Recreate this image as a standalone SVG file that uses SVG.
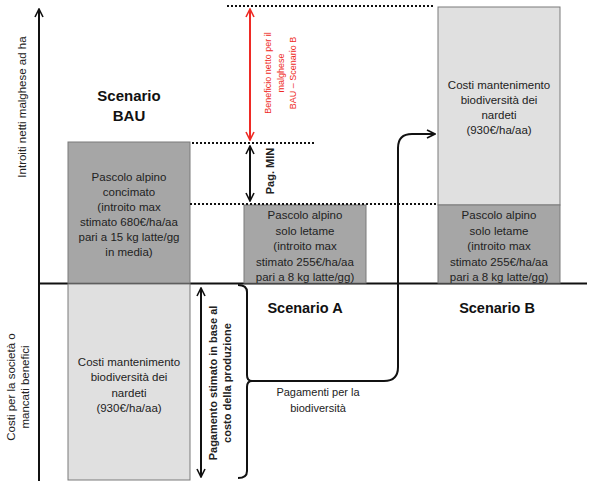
<svg xmlns="http://www.w3.org/2000/svg" width="594" height="491" viewBox="0 0 594 491">
<style>
.t{font-family:"Liberation Sans",Arial,sans-serif;font-size:11.5px;fill:#222;text-anchor:middle}
.h{font-family:"Liberation Sans",Arial,sans-serif;font-size:15px;font-weight:bold;fill:#111;text-anchor:middle}
.dark{fill:#a6a6a6;stroke:#7a7a7a;stroke-width:1}
.light{fill:#e0e0e0;stroke:#7a7a7a;stroke-width:1}
.dot{stroke:#111;stroke-width:2;stroke-dasharray:2,2;fill:none}
.ln{stroke:#111;stroke-width:2;fill:none}
</style>
<defs>
<marker id="ab" viewBox="0 0 10 10" refX="9" refY="5" markerWidth="5" markerHeight="5" orient="auto-start-reverse" markerUnits="strokeWidth"><path d="M1,1 L9,5 L1,9" fill="none" stroke="#111" stroke-width="1.6"/></marker>
<marker id="ar" viewBox="0 0 10 10" refX="9" refY="5" markerWidth="5" markerHeight="5" orient="auto-start-reverse" markerUnits="strokeWidth"><path d="M1,1 L9,5 L1,9" fill="none" stroke="#ee2a24" stroke-width="1.6"/></marker>
</defs>

<g id="axes">
<line class="ln" x1="39" y1="481" x2="39" y2="9" marker-end="url(#ab)"/>
<line class="ln" x1="39" y1="283.5" x2="587" y2="283.5"/>
<text class="t" transform="translate(26,107) rotate(-90)">Introiti netti malghese ad ha</text>
<text class="t" transform="translate(15,387) rotate(-90)">Costi per la società o</text>
<text class="t" transform="translate(29,387) rotate(-90)">mancati benefici</text>
</g>

<g id="bau">
<text class="h" x="129" y="101">Scenario</text>
<text class="h" x="129" y="121">BAU</text>
<rect class="dark" x="68" y="142" width="122" height="141"/>
<text class="t" x="129" y="181">Pascolo alpino</text>
<text class="t" x="129" y="196">concimato</text>
<text class="t" x="129" y="211">(introito max</text>
<text class="t" x="129" y="226">stimato 680€/ha/aa</text>
<text class="t" x="129" y="241">pari a 15 kg latte/gg</text>
<text class="t" x="129" y="256">in media)</text>
</g>

<g id="bau-costs">
<rect class="light" x="68" y="284" width="122" height="196"/>
<text class="t" x="129" y="366">Costi mantenimento</text>
<text class="t" x="129" y="381">biodiversità dei</text>
<text class="t" x="129" y="397">nardeti</text>
<text class="t" x="129" y="412">(930€/ha/aa)</text>
</g>

<g id="scenA">
<rect class="dark" x="244" y="205" width="122" height="78"/>
<text class="t" x="305" y="219">Pascolo alpino</text>
<text class="t" x="305" y="235">solo letame</text>
<text class="t" x="305" y="250">(introito max</text>
<text class="t" x="305" y="266">stimato 255€/ha/aa</text>
<text class="t" x="305" y="281">pari a 8 kg latte/gg)</text>
<text class="h" x="305" y="313" style="font-size:14.5px">Scenario A</text>
</g>

<g id="scenB-costs">
<rect class="light" x="438" y="7" width="122" height="198"/>
<text class="t" x="499" y="89">Costi mantenimento</text>
<text class="t" x="499" y="104">biodiversità dei</text>
<text class="t" x="499" y="119">nardeti</text>
<text class="t" x="499" y="134">(930€/ha/aa)</text>
</g>

<g id="scenB">
<rect class="dark" x="438" y="205" width="122" height="78"/>
<text class="t" x="499" y="219">Pascolo alpino</text>
<text class="t" x="499" y="235">solo letame</text>
<text class="t" x="499" y="250">(introito max</text>
<text class="t" x="499" y="266">stimato 255€/ha/aa</text>
<text class="t" x="499" y="281">pari a 8 kg latte/gg)</text>
<text class="h" x="497" y="313" style="font-size:14.5px">Scenario B</text>
</g>

<g id="connectors">
<line class="dot" x1="227" y1="6" x2="434" y2="6"/>
<line class="dot" x1="192" y1="143" x2="316" y2="143"/>
<line class="dot" x1="190" y1="204" x2="438" y2="204"/>
<line x1="250" y1="9" x2="250" y2="140" stroke="#ee2a24" stroke-width="2" marker-start="url(#ar)" marker-end="url(#ar)"/>
<line class="ln" x1="250" y1="146" x2="250" y2="201" marker-start="url(#ab)" marker-end="url(#ab)"/>
<line class="ln" x1="201" y1="288" x2="201" y2="477" marker-start="url(#ab)" marker-end="url(#ab)"/>
<path class="ln" d="M238 285 Q247 285 247 292 L247 375 Q247 381 252 381 Q247 381 247 387 L247 471 Q247 478 238 478"/>
<path class="ln" d="M252 381 L384 381 Q398 381 398 367 L398 148 Q398 134 412 134 L435 134" marker-end="url(#ab)"/>
</g>

<g id="labels">
<text class="t" transform="translate(271,73) rotate(-90)" style="fill:#ee2a24;font-size:9px">Beneficio netto per il</text>
<text class="t" transform="translate(284,73) rotate(-90)" style="fill:#ee2a24;font-size:9px">malghese</text>
<text class="t" transform="translate(296,73) rotate(-90)" style="fill:#ee2a24;font-size:9px">BAU – Scenario B</text>
<text class="t" transform="translate(274,171) rotate(-90)" style="font-size:11px;font-weight:bold">Pag. MIN</text>
<text class="t" transform="translate(217,383) rotate(-90)" style="font-size:11px;font-weight:bold">Pagamento stimato in base al</text>
<text class="t" transform="translate(231,383) rotate(-90)" style="font-size:11px;font-weight:bold">costo della produzione</text>
<text class="t" x="318" y="396" style="font-size:11px">Pagamenti per la</text>
<text class="t" x="318" y="412" style="font-size:11px">biodiversità</text>
</g>
</svg>
